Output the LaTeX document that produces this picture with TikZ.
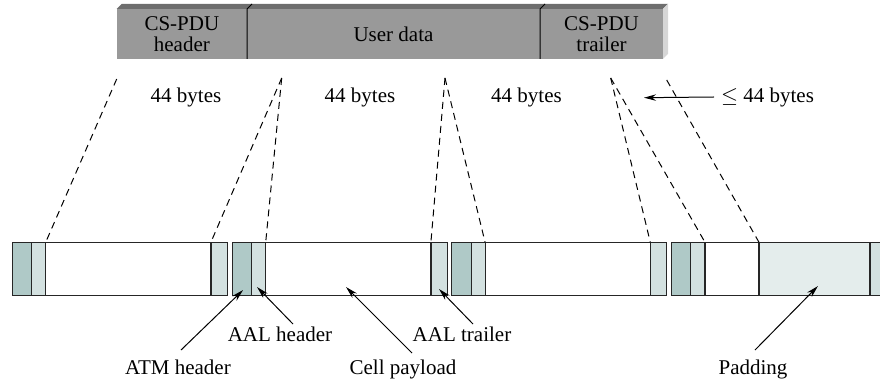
\documentclass[tikz,border=0pt]{standalone}
\usepackage{fontspec}
\setmainfont{Liberation Serif}
\usepackage{tikz}
\usetikzlibrary{positioning,arrows.meta}
\definecolor{atmc}{HTML}{AFC9C7}
\definecolor{aalc}{HTML}{D3E1E0}
\definecolor{padc}{HTML}{E4EDEC}
\definecolor{pduf}{HTML}{999999}
\definecolor{pdut}{HTML}{6E6E6E}
\definecolor{pdus}{HTML}{D6D6D6}

\begin{document}
\begin{tikzpicture}[x=0.5pt, y=-0.5pt, font=\fontsize{10.5}{10.5}\selectfont,
  pdu/.style={fill=pduf, minimum height=25pt, inner sep=0pt, outer sep=0pt, align=center},
  fld/.style={draw=black!85, line width=0.6pt, minimum height=26.7pt, inner sep=0pt, outer sep=0pt},
  gap/.style={dash pattern=on 3.5pt off 2.5pt, line width=0.5pt},
  lbl/.style={-{Stealth[length=6pt,width=3.2pt]}, line width=0.5pt},
  txt/.style={inner sep=1pt, anchor=base}]
\useasboundingbox (0,0) rectangle (880,379);
\clip (0,0) rectangle (880,379);
% CS-PDU on top
\node[pdu, minimum width=65.15pt, anchor=north west] (hdr) at (116.7,9) {CS-PDU\\header};
\node[pdu, minimum width=146.5pt, right=0pt of hdr] (usr) {User data};
\node[pdu, minimum width=61.5pt, right=0pt of usr] (trl) {CS-PDU\\trailer};
\fill[pdut] (hdr.north west) -- ++(5,-5) -- ([shift={(5,-5)}]trl.north east) -- (trl.north east) -- cycle;
\fill[pdus] (trl.north east) -- ++(5,-5) -- ([shift={(5,-5)}]trl.south east) -- (trl.south east) -- cycle;
\draw[line width=0.5pt] (hdr.south east) -- (hdr.north east) -- ++(5,-5);
\draw[line width=0.5pt] (usr.south east) -- (usr.north east) -- ++(5,-5);
% cells
\foreach \i/\x in {1/12.3, 2/232.3, 3/451.7}{
  \node[fld, fill=atmc, minimum width=9.7pt, anchor=north west] (atm\i) at (\x,242.3) {};
  \node[fld, fill=aalc, minimum width=7pt, right=0pt of atm\i] (ah\i) {};
  \node[fld, fill=white, minimum width=82.6pt, right=0pt of ah\i] (pl\i) {};
  \node[fld, fill=aalc, minimum width=8.2pt, right=0pt of pl\i] (at\i) {};
}
\node[fld, fill=atmc, minimum width=9.5pt, anchor=north west] (atm4) at (671.7,242.3) {};
\node[fld, fill=aalc, minimum width=7.15pt, right=0pt of atm4] (ah4) {};
\node[fld, fill=white, minimum width=27pt, right=0pt of ah4] (pl4) {};
\node[fld, fill=padc, minimum width=55.5pt, right=0pt of pl4] (pad4) {};
\node[fld, fill=aalc, minimum width=8.2pt, right=0pt of pad4] (at4) {};
% fan-out
\coordinate (d1) at (116.7,79);
\coordinate (d2) at (281.7,78);
\coordinate (d3) at (445,78);
\coordinate (d4) at (610.7,78);
\coordinate (d5) at (666.7,80);
\draw[gap] (d1) -- (ah1.north east);
\draw[gap] (d2) -- (at1.north west);
\draw[gap] (d2) -- (ah2.north east);
\draw[gap] (d3) -- (at2.north west);
\draw[gap] (d3) -- (ah3.north east);
\draw[gap] (d4) -- (at3.north west);
\draw[gap] (d4) -- (ah4.north east);
\draw[gap] (d5) -- (pad4.north west);
\node (b1) at (186,97) {44 bytes};
\node (b2) at (360,97) {44 bytes};
\node (b3) at (526.5,97) {44 bytes};
\node[anchor=west] (b4) at (714,97) {$\leq$ 44 bytes};
\coordinate (b4t) at (644,97.7);
\draw[lbl] (b4.west) -- (b4t);
% labels below
\node[txt] (aalh) at (280,342) {AAL header};
\node[txt] (aalt) at (462,342) {AAL trailer};
\node[txt] (atml) at (178,375) {ATM header};
\node[txt] (cpl) at (403,375) {Cell payload};
\node[txt] (padl) at (753,375) {Padding};
\draw[lbl] ([shift={(1.5pt,4pt)}]atml.north) -- ([shift={(0.5pt,2.8pt)}]atm2.south);
\draw[lbl] ([shift={(6.5pt,0.5pt)}]aalh.north) -- ([shift={(-0.8pt,4.3pt)}]ah2.south);
\draw[lbl] ([shift={(4.5pt,2.5pt)}]cpl.north) -- ([shift={(-1.1pt,4.3pt)}]pl2.south);
\draw[lbl] ([shift={(5.5pt,0.5pt)}]aalt.north) -- ([shift={(0pt,3.3pt)}]at2.south);
\draw[lbl] ([shift={(1pt,4pt)}]padl.north) -- ([shift={(1.7pt,4.8pt)}]pad4.south);
\end{tikzpicture}
\end{document}
